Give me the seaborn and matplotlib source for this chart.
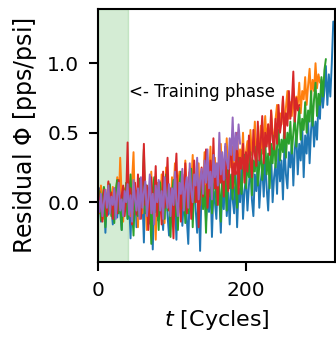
import matplotlib
matplotlib.use("Agg")
import matplotlib.pyplot as plt
import seaborn as sns
import numpy as np
import pandas as pd

# residual per engine, one value every 2 cycles
step = 2
blue = [-0.02, 0.1, -0.14, -0.05, 0.06, -0.22, 0.03, -0.09, 0.12, -0.04,
        -0.16, 0.05, 0.0, -0.11, 0.14, -0.07, -0.2, 0.08, -0.03, 0.1,
        -0.12, 0.02, -0.26, 0.07, -0.05, 0.11, -0.18, -0.02, 0.09, -0.1,
        0.04, -0.29, 0.13, -0.08, 0.0, -0.15, 0.06, -0.34, 0.1, -0.04,
        -0.13, 0.08, 0.15, -0.06, -0.2, 0.03, 0.12, -0.1, -0.24, 0.05,
        0.1, -0.08, 0.0, -0.27, 0.14, -0.03, 0.07, -0.17, 0.02, 0.16,
        -0.12, -0.3, 0.09, 0.01, -0.09, 0.17, -0.05, -0.22, 0.06, -0.35,
        0.11, -0.02, 0.19, -0.14, 0.04, -0.07, 0.15, -0.25, 0.08, 0.0,
        -0.12, 0.2, 0.03, -0.22, 0.12, -0.05, 0.24, -0.1, 0.07, -0.16,
        0.14, 0.02, -0.08, 0.22, -0.18, 0.1, 0.0, 0.26, -0.12, 0.08,
        0.18, -0.06, 0.12, 0.28, 0.02, -0.1, 0.2, 0.08, 0.3, -0.04,
        0.15, 0.25, 0.04, 0.33, 0.1, -0.06, 0.22, 0.35, 0.0, 0.18,
        0.28, 0.06, 0.38, 0.15, 0.3, 0.02, 0.42, 0.2, 0.1, 0.36,
        0.25, 0.45, 0.12, 0.38, 0.5, 0.2, 0.42, 0.3, 0.55, 0.18,
        0.48, 0.35, 0.6, 0.28, 0.52, 0.66, 0.4, 0.58, 0.45, 0.72,
        0.6, 0.88, 0.68, 0.8, 0.98, 0.7, 0.92, 0.76, 1.0, 1.3]
orange = [0.06, -0.08, 0.12, 0.0, -0.12, 0.09, -0.04, 0.14, -0.06, 0.03,
          0.11, -0.1, 0.05, 0.18, -0.02, 0.32, 0.04, -0.14, 0.1, -0.03,
          0.2, 0.0, -0.1, 0.15, 0.36, -0.05, 0.08, -0.18, 0.12, 0.02,
          -0.08, 0.26, 0.05, -0.2, 0.1, 0.0, 0.22, -0.12, 0.06, -0.27,
          0.14, 0.03, -0.06, 0.2, 0.08, -0.15, 0.25, 0.02, 0.12, -0.1,
          0.18, 0.05, 0.28, -0.04, 0.12, 0.22, -0.08, 0.15, 0.02, 0.3,
          0.1, -0.06, 0.24, 0.14, 0.34, 0.0, 0.18, 0.08, 0.28, -0.02,
          0.22, 0.12, 0.36, 0.05, 0.26, 0.16, 0.4, 0.1, 0.2, 0.32,
          0.06, 0.28, 0.18, 0.42, 0.12, 0.3, 0.22, 0.46, 0.15, 0.35,
          0.25, 0.4, 0.12, 0.32, 0.48, 0.2, 0.38, 0.28, 0.5, 0.22,
          0.36, 0.44, 0.26, 0.52, 0.34, 0.4, 0.58, 0.3, 0.46, 0.38,
          0.55, 0.35, 0.48, 0.62, 0.42, 0.56, 0.38, 0.66, 0.5, 0.45,
          0.6, 0.7, 0.48, 0.64, 0.56, 0.75, 0.52, 0.68, 0.8, 0.6,
          0.72, 0.62, 0.82, 0.58, 0.76, 0.7, 0.86, 0.64, 0.8, 0.74,
          0.9, 0.7, 0.84, 0.96, 0.76, 0.88, 0.8, 1.0, 0.82, 0.92,
          0.86]
green = [-0.04, 0.08, -0.13, 0.02, 0.11, -0.18, 0.05, -0.06, 0.13, -0.1,
         0.0, -0.15, 0.09, 0.16, -0.08, 0.04, -0.2, 0.1, -0.02, 0.14,
         -0.12, 0.06, 0.2, -0.05, -0.24, 0.08, 0.02, -0.1, 0.17, -0.04,
         0.05, 0.38, -0.08, 0.12, -0.16, 0.0, -0.3, 0.09, 0.18, -0.07,
         0.03, -0.2, 0.14, -0.02, 0.08, -0.12, 0.2, -0.06, 0.1, -0.25,
         0.06, 0.16, -0.1, 0.02, -0.2, 0.12, 0.22, -0.04, 0.08, -0.15,
         0.14, -0.08, 0.05, 0.24, -0.18, 0.1, 0.0, 0.18, -0.12, 0.06,
         0.2, -0.05, 0.12, -0.22, 0.15, 0.04, 0.26, -0.08, 0.1, 0.18,
         -0.02, 0.22, 0.08, -0.14, 0.28, 0.05, 0.16, -0.06, 0.3, 0.1,
         0.2, 0.02, 0.26, 0.12, -0.04, 0.32, 0.15, 0.06, 0.24, 0.34,
         0.1, 0.28, 0.18, 0.36, 0.05, 0.3, 0.22, 0.4, 0.12, 0.26,
         0.38, 0.16, 0.3, 0.44, 0.2, 0.35, 0.1, 0.42, 0.28, 0.48,
         0.25, 0.4, 0.52, 0.3, 0.45, 0.36, 0.56, 0.32, 0.5, 0.42,
         0.58, 0.35, 0.5, 0.62, 0.4, 0.55, 0.68, 0.45, 0.6, 0.52,
         0.72, 0.5, 0.66, 0.58, 0.8, 0.55, 0.74, 0.86, 0.62, 0.78,
         0.7, 0.9, 0.76, 0.95, 1.03]
red = [0.12, -0.06, 0.04, -0.14, 0.09, 0.0, -0.1, 0.15, -0.03, 0.07,
       -0.12, 0.1, 0.02, -0.08, 0.16, -0.04, 0.05, 0.12, -0.1, 0.03,
       0.43, -0.06, 0.1, -0.16, 0.04, 0.14, -0.09, 0.2, 0.0, -0.12,
       0.08, 0.42, -0.02, 0.12, -0.2, 0.06, 0.18, -0.08, 0.02, 0.26,
       -0.1, 0.14, 0.03, -0.16, 0.22, -0.04, 0.08, 0.32, -0.06, 0.1,
       0.0, -0.26, 0.16, 0.35, -0.05, 0.1, -0.14, 0.2, 0.04, 0.28,
       -0.08, 0.12, 0.22, -0.12, 0.06, 0.3, 0.0, 0.16, -0.18, 0.1,
       0.25, 0.04, 0.18, 0.38, -0.04, 0.12, 0.3, 0.06, 0.46, 0.1,
       0.2, -0.02, 0.34, 0.14, 0.26, 0.04, 0.4, 0.18, 0.08, 0.3,
       0.44, 0.1, 0.28, 0.2, 0.5, 0.06, 0.32, 0.24, 0.42, 0.14,
       0.36, 0.22, 0.48, 0.3, 0.18, 0.52, 0.34, 0.26, 0.58, 0.3,
       0.44, 0.62, 0.28, 0.5, 0.4, 0.56, 0.34, 0.66, 0.45, 0.38,
       0.6, 0.42, 0.7, 0.5, 0.58, 0.76, 0.46, 0.64, 0.55, 0.8,
       0.6, 0.72, 0.94, 0.58, 0.75, 0.66, 0.7]
purple = [0.02, -0.07, 0.06, -0.1, 0.0, 0.09, -0.04, 0.12, -0.08, 0.04,
          -0.02, 0.1, -0.12, 0.05, 0.14, -0.06, 0.02, -0.1, 0.08, 0.0,
          0.13, -0.09, 0.05, -0.14, 0.16, 0.02, -0.06, 0.1, -0.12, 0.18,
          -0.04, 0.07, 0.15, -0.1, 0.02, 0.2, -0.08, 0.06, -0.16, 0.12,
          0.0, 0.16, -0.06, 0.08, -0.12, 0.18, 0.04, -0.04, 0.13, -0.1,
          0.1, -0.02, 0.22, 0.0, -0.1, 0.14, 0.06, 0.24, -0.06, 0.1,
          0.18, -0.04, 0.28, 0.08, 0.0, 0.2, 0.12, 0.32, 0.02, 0.16,
          0.24, 0.06, 0.3, 0.14, 0.38, 0.1, 0.22, 0.02, 0.34, 0.18,
          0.28, 0.12, 0.5, 0.2, 0.36, 0.16, 0.42, 0.3, 0.24, 0.46,
          0.34, 0.61, 0.3, 0.5, 0.38, 0.56, 0.42]

series = {"blue": blue, "orange": orange, "green": green, "red": red, "purple": purple}
frames = []
for name, vals in series.items():
    frames.append(pd.DataFrame({"cycle": np.arange(len(vals)) * step,
                                "residual": vals, "unit": name}))
df = pd.concat(frames, ignore_index=True)

sns.set_style("ticks")
fig = plt.figure(figsize=(3.36, 3.37), dpi=100)
ax = fig.add_axes([0.2917, 0.2226, 0.7068, 0.7507])

ax.axvspan(0, 40, color="tab:green", alpha=0.2)
sns.lineplot(data=df, x="cycle", y="residual", hue="unit",
             palette=sns.color_palette("tab10", 5), legend=False,
             linewidth=1.4, ax=ax)
ax.text(42, 0.79, "<- Training phase", fontsize=12, va="center", color="black")

ax.set_xlim(0, 321)
ax.set_ylim(-0.43, 1.39)
ax.set_xticks([0, 200])
ax.set_yticks([0.0, 0.5, 1.0])
ax.set_yticklabels(["0.0", "0.5", "1.0"])
ax.set_xlabel("$t$ [Cycles]", fontsize=16, color="black", labelpad=6)
ax.set_ylabel(r"Residual $\Phi$ [pps/psi]", fontsize=17, color="black", labelpad=6)
ax.tick_params(labelsize=14.5, length=6.5, width=1.5, pad=7, colors="black")
for sp in ax.spines.values():
    sp.set_linewidth(1.5)
    sp.set_color("black")

fig.savefig("out.png", dpi=100)
